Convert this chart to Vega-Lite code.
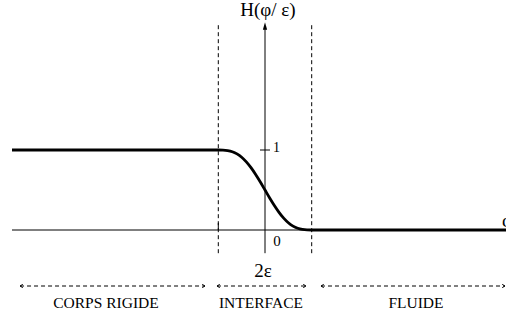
{
  "$schema": "https://vega.github.io/schema/vega-lite/v6.json",
  "width": 506,
  "height": 318,
  "padding": 0,
  "autosize": {"type": "none"},
  "background": "white",
  "config": {"view": {"stroke": null}},
  "datasets": {
    "curve": [
      {"x": -5.418, "h": 1},
      {"x": -1.0, "h": 1},
      {"x": -0.9, "h": 0.99918},
      {"x": -0.8, "h": 0.99355},
      {"x": -0.7, "h": 0.97876},
      {"x": -0.6, "h": 0.95137},
      {"x": -0.5, "h": 0.90915},
      {"x": -0.4, "h": 0.85137},
      {"x": -0.3, "h": 0.77876},
      {"x": -0.2, "h": 0.69355},
      {"x": -0.1, "h": 0.59918},
      {"x": 0.0, "h": 0.5},
      {"x": 0.1, "h": 0.40082},
      {"x": 0.2, "h": 0.30645},
      {"x": 0.3, "h": 0.22124},
      {"x": 0.4, "h": 0.14863},
      {"x": 0.5, "h": 0.09085},
      {"x": 0.6, "h": 0.04863},
      {"x": 0.7, "h": 0.02124},
      {"x": 0.8, "h": 0.00645},
      {"x": 0.9, "h": 0.00082},
      {"x": 1.0, "h": 0},
      {"x": 5.161, "h": 0}
    ],
    "solidRules": [
      {"x": -5.418, "x2": 5.161, "y": 0, "y2": 0},
      {"x": 0, "x2": 0, "y": -0.29, "y2": 2.53},
      {"x": -0.107, "x2": 0.107, "y": 1, "y2": 1},
      {"x": -1, "x2": -1, "y": 0, "y2": 0.09}
    ],
    "dashedRules": [
      {"x": -1, "x2": -1, "y": -0.29, "y2": 2.59},
      {"x": 1, "x2": 1, "y": -0.29, "y2": 2.59},
      {"x": -5.246, "x2": -1.285, "y": -0.7, "y2": -0.7},
      {"x": -1.028, "x2": 0.878, "y": -0.7, "y2": -0.7},
      {"x": 1.199, "x2": 5.139, "y": -0.7, "y2": -0.7}
    ],
    "leftHeads": [
      {"x": -5.246, "y": -0.7},
      {"x": -1.028, "y": -0.7},
      {"x": 1.199, "y": -0.7}
    ],
    "rightHeads": [
      {"x": -1.285, "y": -0.7},
      {"x": 0.878, "y": -0.7},
      {"x": 5.139, "y": -0.7}
    ],
    "labels": [
      {"x": 0.064, "y": 2.75, "t": "H(φ/ ε)", "s": 19},
      {"x": -0.043, "y": -0.5125, "t": "2ε", "s": 19},
      {"x": 0.257, "y": -0.1375, "t": "0", "s": 15},
      {"x": 0.246, "y": 1.03, "t": "1", "s": 14},
      {"x": -3.405, "y": -0.9125, "t": "CORPS RIGIDE", "s": 15.5},
      {"x": -0.086, "y": -0.9125, "t": "INTERFACE", "s": 15.5},
      {"x": 3.233, "y": -0.9125, "t": "FLUIDE", "s": 15.5}
    ],
    "phi": [
      {"x": 5.075, "y": 0.1125, "t": "φ"}
    ]
  },
  "layer": [
    {
      "data": {"name": "solidRules"},
      "mark": {"type": "rule", "color": "black", "strokeWidth": 1},
      "encoding": {
        "x": {"field": "x", "type": "quantitative", "scale": {"domain": [-5.675, 5.161], "nice": false, "zero": false}, "axis": null},
        "x2": {"field": "x2"},
        "y": {"field": "y", "type": "quantitative", "scale": {"domain": [-1.1, 2.875], "nice": false, "zero": false}, "axis": null},
        "y2": {"field": "y2"}
      }
    },
    {
      "data": {"name": "dashedRules"},
      "mark": {"type": "rule", "color": "black", "strokeWidth": 1, "strokeDash": [4, 3]},
      "encoding": {
        "x": {"field": "x", "type": "quantitative"},
        "x2": {"field": "x2"},
        "y": {"field": "y", "type": "quantitative"},
        "y2": {"field": "y2"}
      }
    },
    {
      "data": {"name": "leftHeads"},
      "mark": {"type": "point", "shape": "M 1 -0.6 L 0 0 L 1 0.6", "filled": false, "stroke": "black", "strokeWidth": 1, "size": 30, "opacity": 1},
      "encoding": {
        "x": {"field": "x", "type": "quantitative"},
        "y": {"field": "y", "type": "quantitative"}
      }
    },
    {
      "data": {"name": "rightHeads"},
      "mark": {"type": "point", "shape": "M -1 -0.6 L 0 0 L -1 0.6", "filled": false, "stroke": "black", "strokeWidth": 1, "size": 30, "opacity": 1},
      "encoding": {
        "x": {"field": "x", "type": "quantitative"},
        "y": {"field": "y", "type": "quantitative"}
      }
    },
    {
      "data": {"values": [{"x": 0, "y": 2.55}]},
      "mark": {"type": "point", "shape": "M 0 -1 L 0.55 1 L -0.55 1 Z", "filled": true, "color": "black", "size": 60, "opacity": 1},
      "encoding": {
        "x": {"field": "x", "type": "quantitative"},
        "y": {"field": "y", "type": "quantitative"}
      }
    },
    {
      "data": {"name": "curve"},
      "mark": {"type": "line", "color": "black", "strokeWidth": 2.8, "interpolate": "monotone"},
      "encoding": {
        "x": {"field": "x", "type": "quantitative"},
        "y": {"field": "h", "type": "quantitative"}
      }
    },
    {
      "data": {"name": "labels"},
      "mark": {"type": "text", "font": "'Liberation Serif', serif", "color": "black", "align": "center", "baseline": "middle"},
      "encoding": {
        "x": {"field": "x", "type": "quantitative"},
        "y": {"field": "y", "type": "quantitative"},
        "text": {"field": "t"},
        "size": {"field": "s", "type": "quantitative", "scale": null}
      }
    },
    {
      "data": {"name": "phi"},
      "mark": {"type": "text", "font": "'Liberation Serif', serif", "color": "black", "align": "left", "baseline": "middle", "fontSize": 19},
      "encoding": {
        "x": {"field": "x", "type": "quantitative"},
        "y": {"field": "y", "type": "quantitative"},
        "text": {"field": "t"}
      }
    }
  ]
}
